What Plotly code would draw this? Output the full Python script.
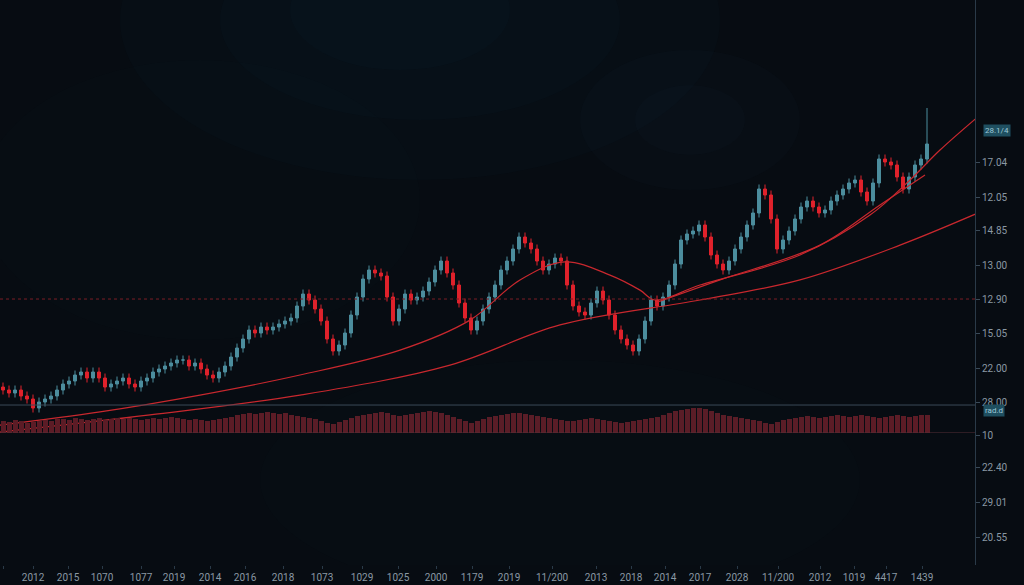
import plotly.graph_objects as go

# ---------------- data ----------------
closes = [5,4,5,3,2,-1,1,2,3,5,
          7,8,10,11,9,11,9,6,7,8,
          9,7,6,8,9,11,12,13,14,15,
          15,13,14,12,10,9,11,13,16,19,
          22,25,24,26,25,26,27,28,29,33,
          37,35,32,28,22,18,20,24,30,36,
          42,45,44,43,36,28,32,37,35,36,
          38,41,45,48,44,40,34,29,25,28,
          32,36,40,45,48,52,56,54,52,48,
          45,47,49,48,40,33,31,30,34,38,
          35,30,25,22,20,18,22,28,35,33,
          36,40,47,55,57,58,60,56,50,47,
          45,48,52,56,60,64,72,70,62,52,
          55,58,62,66,68,66,64,65,68,70,
          72,74,75,71,68,74,82,81,80,76,
          72,76,80,82,87]
first_open = 6
last_high = 99
volumes = [12,11,13,12,10,11,12,13,12,14,
           14,13,15,14,13,14,15,13,14,15,
           14,15,14,13,14,15,14,15,16,15,
           14,13,14,13,12,13,14,15,16,18,
           19,20,19,20,21,20,19,20,18,17,
           16,15,14,12,10,9,11,13,15,17,
           18,19,20,21,20,18,17,18,19,20,
           21,22,21,20,18,16,14,12,10,12,
           14,16,17,18,19,20,20,19,18,17,
           16,15,14,13,12,12,13,14,15,14,
           13,12,11,10,11,12,13,14,15,16,
           18,20,22,23,24,25,25,24,22,20,
           18,17,16,15,14,13,12,10,9,11,
           13,14,15,16,17,16,15,16,17,18,
           17,16,17,18,17,16,15,16,17,18,
           17,16,17,18,18]
x_tick_labels = ["17","2012","2015","1070","1077","2019","2014","2016","2018","1073",
                 "1029","1025","2000","1179","2019","11/200","2013","2018","2014","2017",
                 "2028","11/200","2012","1019","4417","1439"]
x_tick_pos = [3,33,68,102,141,174,210,245,283,322,362,398,436,472,509,552,596,631,
              665,700,737,778,820,854,886,922]
ma_fast_x = [0,100,200,300,400,470,520,565,610,640,655,700,800,870,910,940,980]
ma_fast_y = [-6.7,-2.3,3.3,10,18.3,28.3,41.7,47.7,43.3,38.3,35,40,50,63.3,75,85,96.7]
ma_mid_x = [655,720,820,880,925]
ma_mid_y = [34,41.7,53.3,66.7,76.7]
ma_slow_x = [0,150,300,450,560,700,800,900,980]
ma_slow_y = [-9,-3.3,3.3,13.3,26.7,35,41.7,53.3,64.3]
right_labels = ["17.04","12.05","14.85","13.00","12.90","15.05","22.00","28.00",
                "10","22.40","29.01","20.55"]
right_label_pos = [162,197,230,265,299,333,368,402,435,467,502,537]

# ---------------- build ----------------
n = len(closes)
xs = [3 + 6 * i for i in range(n)]
opens = [first_open] + closes[:-1]
highs = [max(o, c) + 1.5 for o, c in zip(opens, closes)]
lows = [min(o, c) - 1.5 for o, c in zip(opens, closes)]
highs[-1] = last_high

fig = go.Figure()

# smoky glow in background
for cx, cy, rx, ry, op in [(420, 20, 300, 160, 0.035), (420, 20, 200, 100, 0.035),
                           (400, 10, 110, 60, 0.035), (690, 120, 110, 70, 0.04),
                           (690, 120, 55, 35, 0.04), (560, 480, 300, 120, 0.025),
                           (200, 200, 220, 140, 0.02)]:
    fig.add_shape(type="circle", xref="x", yref="y3", x0=cx - rx, x1=cx + rx,
                  y0=cy - ry, y1=cy + ry, fillcolor="#2a5568",
                  line_width=0, opacity=op, layer="below")

fig.add_trace(go.Bar(x=xs, y=volumes, yaxis="y2", marker_color="#5c1c26",
                     marker_line_width=0, width=5, showlegend=False))
fig.add_trace(go.Candlestick(x=xs, open=opens, high=highs, low=lows, close=closes,
                             increasing=dict(line=dict(color="#4d8e9e", width=1), fillcolor="#4d8e9e"),
                             decreasing=dict(line=dict(color="#e0222c", width=1), fillcolor="#e0222c"),
                             whiskerwidth=0, showlegend=False))
for mx, my in [(ma_fast_x, ma_fast_y), (ma_mid_x, ma_mid_y), (ma_slow_x, ma_slow_y)]:
    fig.add_trace(go.Scatter(x=mx, y=my, mode="lines", line=dict(color="#c8282e", width=1.2, shape="spline"),
                             showlegend=False, hoverinfo="skip"))

fig.add_trace(go.Scatter(x=[0], y=[0], yaxis="y3", mode="markers", marker_opacity=0,
                         showlegend=False, hoverinfo="skip"))

fig.add_hline(y=35.33, line=dict(color="#7a1e26", width=1, dash="dot"))
fig.add_hline(y=0, line=dict(color="#3a4a58", width=1))
fig.add_hline(y=-9.33, line=dict(color="#5a3038", width=1))

fig.add_annotation(x=1.0, xref="paper", y=130, yref="y3", text="28.1/4", showarrow=False,
                   xanchor="left", xshift=8, bgcolor="#1f4f60", font=dict(color="#9cc8d8", size=8))
fig.add_annotation(x=1.0, xref="paper", y=410, yref="y3", text="rad.d", showarrow=False,
                   xanchor="left", xshift=8, bgcolor="#1f4f60", font=dict(color="#9cc8d8", size=8))

fig.update_layout(
    width=1024, height=585,
    margin=dict(l=0, r=49, t=0, b=20, autoexpand=False),
    paper_bgcolor="#070c12", plot_bgcolor="rgba(0,0,0,0)",
    bargap=0,
    font=dict(family="Roboto", color="#7d8c98", size=10),
    xaxis=dict(range=[0, 975], tickvals=x_tick_pos, ticktext=x_tick_labels, showgrid=False,
               zeroline=False, rangeslider=dict(visible=False), ticks="outside", ticklen=3,
               tickcolor="#2a3a48", tickfont=dict(size=10, color="#8a98a4"),
               anchor="free", position=0),
    yaxis=dict(domain=[0.2336, 1], range=[-9.33, 135], showgrid=False, zeroline=False,
               showticklabels=False),
    yaxis2=dict(domain=[0.2336, 0.2832], range=[0, 28], showgrid=False, zeroline=False,
                showticklabels=False),
    yaxis3=dict(domain=[0, 1], range=[565, 0], side="right", showgrid=False,
                zeroline=False, tickvals=right_label_pos, ticktext=right_labels, ticks="outside",
                ticklen=4, tickcolor="#3a4a58", showline=True, linecolor="#2a3a48",
                tickfont=dict(size=10, color="#8a98a4"), anchor="free", position=1),
)
fig.write_html("out.html", config={"displayModeBar": False},
               post_script="document.body.style.margin='0';document.body.style.background='#070c12';"
                           "document.body.style.overflow='hidden';")
